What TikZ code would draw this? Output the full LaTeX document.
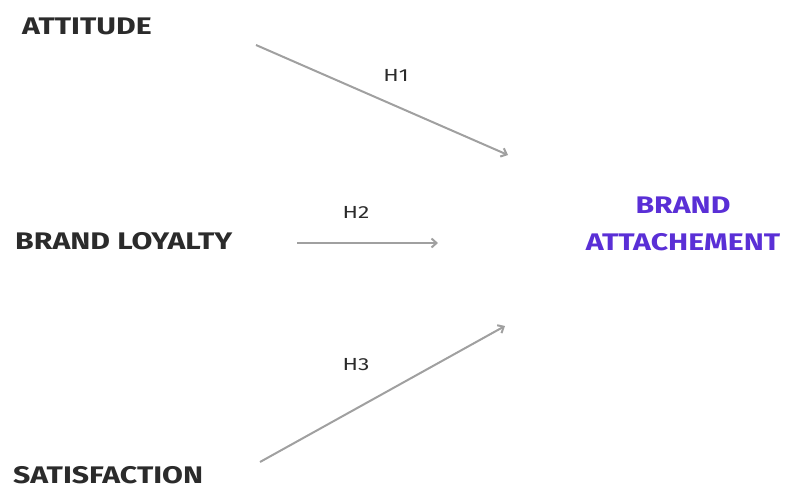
\documentclass[tikz,border=0pt]{standalone}
\usepackage{fontspec}
\setmainfont{Fira Sans}
\newfontfamily\widefont[FakeStretch=1.26]{Fira Sans}
\newfontfamily\labelfont[FakeStretch=1.3]{Fira Sans}
\usetikzlibrary{arrows.meta}
\definecolor{txtdark}{HTML}{2B2B2B}
\definecolor{attpurple}{HTML}{5A2FD6}
\definecolor{arrowgray}{HTML}{A0A0A0}
\begin{document}
\begin{tikzpicture}[x=1pt,y=-1pt,
  construct/.style={inner sep=0pt,anchor=west,text=txtdark,font=\widefont\fontsize{24}{28}\selectfont\bfseries},
  hyplabel/.style={inner sep=0pt,text=txtdark,font=\labelfont\fontsize{17.5}{20}\selectfont},
  hyparrow/.style={draw=arrowgray,line width=2pt,-{Straight Barb[length=5pt,width=9pt]}}]
\useasboundingbox (0,0) rectangle (787,493);
\node[construct] (att) at (22,26) {ATTITUDE};
\node[construct] (loy) at (15,241) {BRAND LOYALTY};
\node[construct] (sat) at (13,475) {SATISFACTION};
\node[inner sep=0pt,align=center,text=attpurple,font=\widefont\fontsize{24}{37}\selectfont\bfseries] (ba) at (683,224) {BRAND\\ATTACHEMENT};
\coordinate (a1s) at (256,45);
\coordinate (a1e) at (508,155);
\coordinate (a2s) at (297,243);
\coordinate (a2e) at (438,243);
\coordinate (a3s) at (260,462);
\coordinate (a3e) at (505,326);
\draw[hyparrow] (a1s) -- (a1e);
\draw[hyparrow] (a2s) -- (a2e);
\draw[hyparrow] (a3s) -- (a3e);
\node[hyplabel] (h1) at (396,75) {H1};
\node[hyplabel] (h2) at (356,212) {H2};
\node[hyplabel] (h3) at (356,365) {H3};
\end{tikzpicture}
\end{document}
